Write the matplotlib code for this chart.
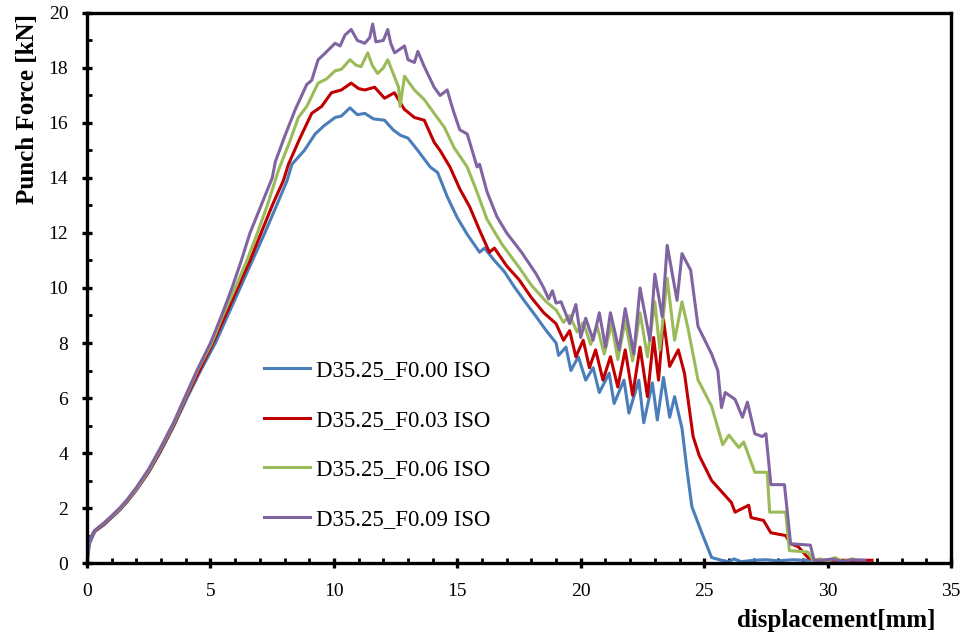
import matplotlib
matplotlib.use("Agg")
import matplotlib.pyplot as plt
from matplotlib.ticker import MultipleLocator

plt.rcParams['font.family'] = ['Liberation Serif', 'DejaVu Serif']

# displacement [mm] / punch force [kN]
f000_x = [0, 0.1, 0.32, 0.7, 1.0, 1.3, 1.6, 2.0, 2.5, 2.95, 3.5, 4.05, 4.6, 5.2, 5.7, 6.2, 6.7, 7.2, 7.7,
          8.1, 8.3, 8.8, 9.24, 9.6, 10.05, 10.3, 10.65, 10.95, 11.25, 11.6, 12.05, 12.4, 12.7, 13.0, 13.4,
          13.9, 14.2, 14.6, 15.0, 15.4, 15.9, 16.1, 16.5, 16.9, 17.3, 17.7, 18.2, 18.6, 19.0, 19.1, 19.4,
          19.6, 19.9, 20.2, 20.5, 20.75, 21.15, 21.35, 21.75, 21.95, 22.35, 22.55, 22.9, 23.1, 23.35, 23.6,
          23.8, 24.1, 24.3, 24.5, 24.9, 25.3, 25.7, 26.0, 26.2, 26.5, 27.0, 27.5, 28.0, 28.6, 29.0, 29.3]
f000_y = [0, 0.7, 1.15, 1.4, 1.65, 1.9, 2.2, 2.65, 3.3, 4.0, 4.95, 6.0, 7.0, 8.0, 9.0, 10.0, 11.0, 12.0, 13.05,
          13.9, 14.5, 15.0, 15.6, 15.9, 16.2, 16.25, 16.55, 16.3, 16.35, 16.15, 16.1, 15.75, 15.55, 15.45, 15.0,
          14.4, 14.2, 13.3, 12.55, 11.95, 11.3, 11.45, 11.0, 10.6, 10.05, 9.55, 8.95, 8.45, 8.0, 7.55, 7.85,
          7.0, 7.5, 6.65, 7.1, 6.2, 6.9, 5.8, 6.65, 5.45, 6.65, 5.1, 6.55, 5.2, 6.75, 5.3,
          6.05, 4.9, 3.4, 2.05, 1.1, 0.2, 0.1, 0.05, 0.15, 0.05, 0.1, 0.12, 0.08, 0.12, 0.1, 0.1]

f003_x = [0, 0.08, 0.3, 0.7, 1.0, 1.3, 1.6, 2.0, 2.5, 2.95, 3.5, 4.0, 4.55, 5.1, 5.6, 6.1, 6.6, 7.05, 7.5,
          7.95, 8.16, 8.6, 9.1, 9.5, 9.9, 10.3, 10.7, 11.0, 11.25, 11.65, 12.05, 12.45, 12.85, 13.26, 13.66,
          14.06, 14.3, 14.7, 15.1, 15.5, 15.9, 16.3, 16.5, 17.0, 17.5, 18.0, 18.5, 19.0, 19.3, 19.55, 19.8,
          20.1, 20.35, 20.6, 20.9, 21.2, 21.5, 21.8, 22.1, 22.4, 22.7, 22.95, 23.15, 23.35, 23.6, 23.95,
          24.2, 24.55, 24.8, 25.3, 25.7, 26.1, 26.25, 26.8, 26.9, 27.4, 27.7, 28.3, 28.5, 28.8, 29.2, 29.5,
          30.5, 31.8]
f003_y = [0, 0.8, 1.15, 1.42, 1.68, 1.93, 2.22, 2.68, 3.33, 4.05, 5.0, 6.0, 7.0, 8.0, 9.0, 10.0, 11.0, 12.0, 13.0,
          13.9, 14.5, 15.4, 16.35, 16.6, 17.1, 17.2, 17.45, 17.25, 17.2, 17.3, 16.9, 17.1, 16.5, 16.2, 16.1,
          15.3, 15.0, 14.4, 13.6, 12.95, 12.1, 11.3, 11.45, 10.8, 10.3, 9.65, 9.1, 8.7, 8.1, 8.45, 7.5,
          8.1, 7.1, 7.75, 6.65, 7.5, 6.4, 7.75, 6.1, 7.85, 6.05, 8.2, 6.65, 8.85, 7.15, 7.75,
          6.9, 4.6, 3.9, 3.0, 2.6, 2.2, 1.85, 2.1, 1.65, 1.55, 1.1, 1.0, 0.7, 0.6, 0.2, 0.1,
          0.1, 0.1]

f006_x = [0, 0.08, 0.3, 0.7, 1.0, 1.3, 1.6, 2.0, 2.5, 2.95, 3.5, 4.0, 4.5, 5.05, 5.5, 6.0, 6.5, 6.9, 7.3,
          7.76, 8.2, 8.56, 8.9, 9.36, 9.7, 10.05, 10.3, 10.65, 10.9, 11.1, 11.37, 11.55, 11.77, 12.0, 12.18,
          12.4, 12.62, 12.68, 12.86, 13.26, 13.66, 14.06, 14.47, 14.87, 15.4, 15.75, 16.2, 16.8, 17.5, 18.0,
          18.6, 19.0, 19.3, 19.55, 19.85, 20.1, 20.4, 20.65, 20.95, 21.25, 21.5, 21.8, 22.1, 22.4, 22.7,
          23.0, 23.2, 23.5, 23.8, 24.1, 24.35, 24.75, 24.9, 25.3, 25.75, 26.0, 26.4, 26.6, 27.05, 27.55,
          27.65, 28.3, 28.45, 29.2, 29.4, 29.7, 30.0, 30.3, 30.6, 31.0]
f006_y = [0, 0.8, 1.17, 1.45, 1.7, 1.95, 2.25, 2.7, 3.37, 4.1, 5.05, 6.05, 7.05, 8.0, 9.0, 10.0, 11.05, 12.0, 13.0,
          14.3, 15.3, 16.2, 16.6, 17.45, 17.6, 17.9, 17.95, 18.3, 18.1, 18.05, 18.55, 18.1, 17.8, 18.0, 18.3,
          17.8, 17.3, 16.6, 17.7, 17.2, 16.85, 16.35, 15.85, 15.1, 14.4, 13.6, 12.5, 11.6, 10.75, 10.1,
          9.5, 9.2, 8.75, 9.0, 8.4, 8.75, 7.95, 8.65, 7.6, 8.7, 7.4, 8.8, 7.35, 9.1, 7.5,
          9.5, 7.75, 10.35, 8.1, 9.5, 8.5, 6.65, 6.4, 5.7, 4.3, 4.65, 4.2, 4.4, 3.3, 3.3,
          1.85, 1.85, 0.45, 0.4, 0.1, 0.15, 0.05, 0.2, 0.05, 0.15]

f009_x = [0, 0.08, 0.3, 0.7, 1.0, 1.3, 1.6, 2.0, 2.5, 2.95, 3.5, 4.0, 4.45, 5.0, 5.45, 5.87, 6.25, 6.6, 7.05,
          7.5, 7.63, 8.0, 8.44, 8.9, 9.1, 9.36, 9.6, 10.05, 10.25, 10.45, 10.7, 10.95, 11.25, 11.45, 11.57,
          11.7, 12.0, 12.18, 12.3, 12.46, 12.86, 13.0, 13.26, 13.4, 13.66, 14.06, 14.3, 14.59, 14.75, 14.87,
          15.1, 15.4, 15.8, 15.9, 16.2, 16.6, 17.0, 17.6, 18.2, 18.5, 18.7, 18.85, 19.0, 19.2, 19.55, 19.8,
          20.0, 20.2, 20.5, 20.75, 21.0, 21.2, 21.55, 21.8, 22.15, 22.4, 22.8, 23.0, 23.3, 23.5, 23.9, 24.1,
          24.45, 24.75, 25.3, 25.55, 25.7, 25.85, 26.25, 26.55, 26.75, 27.05, 27.35, 27.5, 27.7, 28.25,
          28.5, 29.3, 29.45, 29.8, 30.2, 30.6, 31.0, 31.5]
f009_y = [0, 0.8, 1.18, 1.47, 1.72, 1.98, 2.28, 2.75, 3.42, 4.15, 5.1, 6.1, 7.0, 8.0, 9.0, 10.0, 11.0, 12.0, 13.0,
          14.0, 14.6, 15.5, 16.5, 17.4, 17.55, 18.3, 18.5, 18.9, 18.8, 19.2, 19.4, 19.0, 18.9, 19.1, 19.6,
          18.95, 19.0, 19.4, 18.9, 18.55, 18.8, 18.3, 18.2, 18.6, 18.05, 17.3, 17.0, 17.2, 16.7, 16.35,
          15.75, 15.6, 14.4, 14.5, 13.5, 12.6, 12.0, 11.3, 10.5, 10.0, 9.6, 9.9, 9.45, 9.5, 8.7, 9.4,
          8.2, 8.9, 8.1, 9.1, 7.85, 9.1, 7.75, 9.25, 7.6, 10.0, 8.1, 10.5, 8.95, 11.55, 9.55, 11.25,
          10.65, 8.6, 7.6, 7.0, 5.65, 6.2, 5.95, 5.3, 5.85, 4.7, 4.6, 4.7, 2.85, 2.85,
          0.7, 0.65, 0.1, 0.1, 0.15, 0.05, 0.12, 0.1]

labels = ['D35.25_F0.00 ISO', 'D35.25_F0.03 ISO', 'D35.25_F0.06 ISO', 'D35.25_F0.09 ISO']
colors = ['#4a7ebb', '#c00000', '#9bbb59', '#8064a2']

fig = plt.figure(figsize=(9.64, 6.39), dpi=100)
ax = fig.add_axes([0.0903, 0.1189, 0.8963, 0.8608])

series = [(f000_x, f000_y), (f003_x, f003_y), (f006_x, f006_y), (f009_x, f009_y)]
for (xs, ys), lab, c in zip(series, labels, colors):
    ax.plot(xs, ys, color=c, lw=2.2, label=lab, solid_joinstyle='round')

ax.set_xlim(0, 35)
ax.set_ylim(0, 20)
ax.xaxis.set_major_locator(MultipleLocator(5))
ax.xaxis.set_minor_locator(MultipleLocator(1))
ax.yaxis.set_major_locator(MultipleLocator(2))
ax.yaxis.set_minor_locator(MultipleLocator(1))

for sp in ax.spines.values():
    sp.set_linewidth(2.4)
ax.tick_params(which='major', direction='inout', length=7, width=2.4, labelsize=14)
ax.tick_params(axis='y', which='major', pad=10)
ax.tick_params(axis='x', which='major', pad=11)
ax.tick_params(which='minor', direction='in', length=3.5, width=2.0)
ax.tick_params(top=False, right=False, which='both')

fig.text(935 / 964, 1 - 620 / 639, 'displacement[mm]', fontsize=18, fontweight='bold',
         ha='right', va='center')
fig.text(28 / 964, 1 - 14 / 639, 'Punch Force [kN]', fontsize=18, fontweight='bold',
         rotation=90, ha='center', va='top')

ax.legend(loc='center left', bbox_to_anchor=(0.205, 0.2145), frameon=False, fontsize=16.5,
          handlelength=2.0, handletextpad=0.25, labelspacing=1.25, borderpad=0, borderaxespad=0)

fig.savefig('out.png', dpi=100)
